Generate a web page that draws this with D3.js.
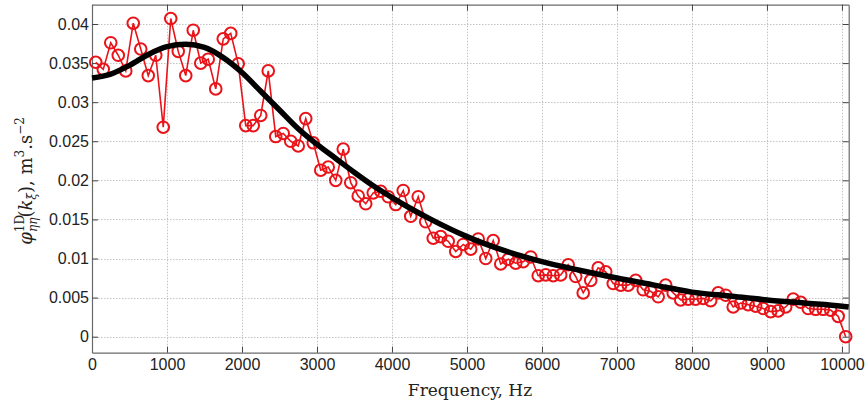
<!DOCTYPE html>
<html><head><meta charset="utf-8">
<script src="https://cdn.jsdelivr.net/npm/d3@7"></script>
<style>
html,body{margin:0;padding:0;background:#fff;}
svg{display:block;}
</style></head>
<body>
<svg id="chart" width="868" height="406"></svg>
<script>
// ---- data ----
const freqs = [50,150,250,350,450,550,650,750,850,950,
1050,1150,1250,1350,1450,1550,1650,1750,1850,1950,
2050,2150,2250,2350,2450,2550,2650,2750,2850,2950,
3050,3150,3250,3350,3450,3550,3650,3750,3850,3950,
4050,4150,4250,4350,4450,4550,4650,4750,4850,4950,
5050,5150,5250,5350,5450,5550,5650,5750,5850,5950,
6050,6150,6250,6350,6450,6550,6650,6750,6850,6950,
7050,7150,7250,7350,7450,7550,7650,7750,7850,7950,
8050,8150,8250,8350,8450,8550,8650,8750,8850,8950,
9050,9150,9250,9350,9450,9550,9650,9750,9850,9950,10050];
const measured = [0.0351,0.0342,0.0376,0.0360,0.0340,0.0401,0.0368,0.0334,0.0360,0.0268,
0.0407,0.0365,0.0334,0.0392,0.0350,0.0355,0.0317,0.0381,0.0388,0.0349,
0.0270,0.0270,0.0283,0.0340,0.0256,0.0260,0.0250,0.0244,0.0279,0.0248,
0.0213,0.0217,0.0200,0.0240,0.0197,0.0180,0.0170,0.0184,0.0186,0.0179,
0.0169,0.0187,0.0154,0.0179,0.0147,0.0126,0.0128,0.0122,0.0109,0.0118,
0.0112,0.0125,0.0100,0.0123,0.0093,0.0099,0.0094,0.0096,0.0102,0.0078,
0.0079,0.0078,0.0079,0.0092,0.0077,0.0056,0.0072,0.0088,0.0083,0.0068,
0.0066,0.0066,0.0072,0.0060,0.0058,0.0051,0.0066,0.0056,0.0047,0.0048,
0.0048,0.0049,0.0046,0.0056,0.0053,0.0038,0.0043,0.0041,0.0039,0.0036,
0.0032,0.0033,0.0038,0.0048,0.0044,0.0036,0.0035,0.0035,0.0034,0.0026,0.0000];
const fitFreqs = [0,250,500,750,1000,1250,1500,1750,2000,2250,2500,2750,3000,3250,3500,3750,4000,4250,4500,5000,5500,6000,6500,7000,7500,8000,8500,9000,9500,10000,10090];
const fitValues = [0.0331,0.0336,0.0347,0.0361,0.0371,0.0374,0.0370,0.0357,0.0338,0.0314,0.0290,0.0266,0.0246,0.0228,0.0210,0.0193,0.0178,0.0164,0.0151,0.0128,0.0110,0.0096,0.0085,0.0075,0.0066,0.0057,0.0052,0.0047,0.0043,0.0039,0.0038];
const xTicks = [0,1000,2000,3000,4000,5000,6000,7000,8000,9000,10000];
const xTickLabels = ["0","1000","2000","3000","4000","5000","6000","7000","8000","9000","10000"];
const yTicks = [0,0.005,0.01,0.015,0.02,0.025,0.03,0.035,0.04];
const yTickLabels = ["0","0.005","0.01","0.015","0.02","0.025","0.03","0.035","0.04"];

// ---- layout ----
const L = 92, R = 848.7, T = 4.7, B = 352.7;
const svg = d3.select("#chart");
const x = d3.scaleLinear().domain([0, 10090]).range([L, R]);
const y = d3.scaleLinear().domain([-0.00205, 0.04247]).range([B, T]);

// grid
const grid = svg.append("g").attr("stroke", "#c4c4c4").attr("stroke-width", 1).attr("stroke-dasharray", "1.5,1.5");
grid.selectAll("line.v").data(xTicks).join("line").attr("class","v")
  .attr("x1", d => Math.round(x(d))+0.5).attr("x2", d => Math.round(x(d))+0.5).attr("y1", T).attr("y2", B);
grid.selectAll("line.h").data(yTicks).join("line").attr("class","h")
  .attr("y1", d => Math.round(y(d))+0.5).attr("y2", d => Math.round(y(d))+0.5).attr("x1", L).attr("x2", R);

// axes (inward ticks, MATLAB style)
const fmtX = d => xTickLabels[xTicks.indexOf(d)];
const fmtY = d => yTickLabels[yTicks.indexOf(d)];
function styleAxis(g){
  g.select(".domain").attr("stroke", "#6a6a6a").attr("stroke-width", 1.2);
  g.selectAll(".tick line").attr("stroke", "#444").attr("stroke-width", 1);
  g.selectAll("text").attr("fill", "#222").attr("font-family", "'Liberation Sans', Arial, sans-serif").attr("font-size", 16);
}
svg.append("g").attr("transform", `translate(0,${B})`)
  .call(d3.axisBottom(x).tickValues(xTicks).tickFormat(fmtX).tickSizeInner(-6).tickSizeOuter(0).tickPadding(6))
  .call(styleAxis);
svg.append("g").attr("transform", `translate(0,${T})`)
  .call(d3.axisTop(x).tickValues(xTicks).tickFormat("").tickSizeInner(-6).tickSizeOuter(0))
  .call(styleAxis);
svg.append("g").attr("transform", `translate(${L},0)`)
  .call(d3.axisLeft(y).tickValues(yTicks).tickFormat(fmtY).tickSizeInner(-6).tickSizeOuter(0).tickPadding(3))
  .call(styleAxis);
svg.append("g").attr("transform", `translate(${R},0)`)
  .call(d3.axisRight(y).tickValues(yTicks).tickFormat("").tickSizeInner(-6).tickSizeOuter(0))
  .call(styleAxis);

// measured series
const pts = freqs.map((f,i) => [f, measured[i]]);
svg.append("path").datum(pts)
  .attr("fill","none").attr("stroke","#e8141a").attr("stroke-width",1.6)
  .attr("d", d3.line().x(d => x(d[0])).y(d => y(d[1])));
svg.append("g").selectAll("circle").data(pts).join("circle")
  .attr("cx", d => x(d[0])).attr("cy", d => y(d[1])).attr("r", 5.8)
  .attr("fill","none").attr("stroke","#e8141a").attr("stroke-width",2);

// fitted curve
const fit = fitFreqs.map((f,i) => [f, fitValues[i]]);
svg.append("path").datum(fit)
  .attr("fill","none").attr("stroke","#000").attr("stroke-width",5.5).attr("stroke-linejoin","round")
  .attr("d", d3.line().curve(d3.curveMonotoneX).x(d => x(d[0])).y(d => y(d[1])));

// x label
svg.append("text").attr("x", 470).attr("y", 396).attr("text-anchor","middle")
  .attr("font-family","'DejaVu Serif', serif").attr("font-size",17).attr("fill","#222")
  .text("Frequency, Hz");

// y label
const yl = svg.append("text").attr("transform","translate(32,181) rotate(-90)")
  .attr("text-anchor","middle").attr("font-family","'DejaVu Serif', serif").attr("font-size",18).attr("fill","#222");
yl.append("tspan").attr("font-style","italic").text("φ");
yl.append("tspan").attr("font-size",12).attr("dy",-8).text("1D");
yl.append("tspan").attr("font-size",12).attr("font-style","italic").attr("dx",-17).attr("dy",13).text("ηη");
yl.append("tspan").attr("dy",-5).text("(");
yl.append("tspan").attr("font-style","italic").text("k");
yl.append("tspan").attr("font-size",12).attr("font-style","italic").attr("dy",4).text("ξ");
yl.append("tspan").attr("dy",-4).text("), m");
yl.append("tspan").attr("font-size",12).attr("dy",-8).text("3");
yl.append("tspan").attr("dy",8).text(".s");
yl.append("tspan").attr("font-size",12).attr("dy",-8).text("−2");
</script>
</body></html>
